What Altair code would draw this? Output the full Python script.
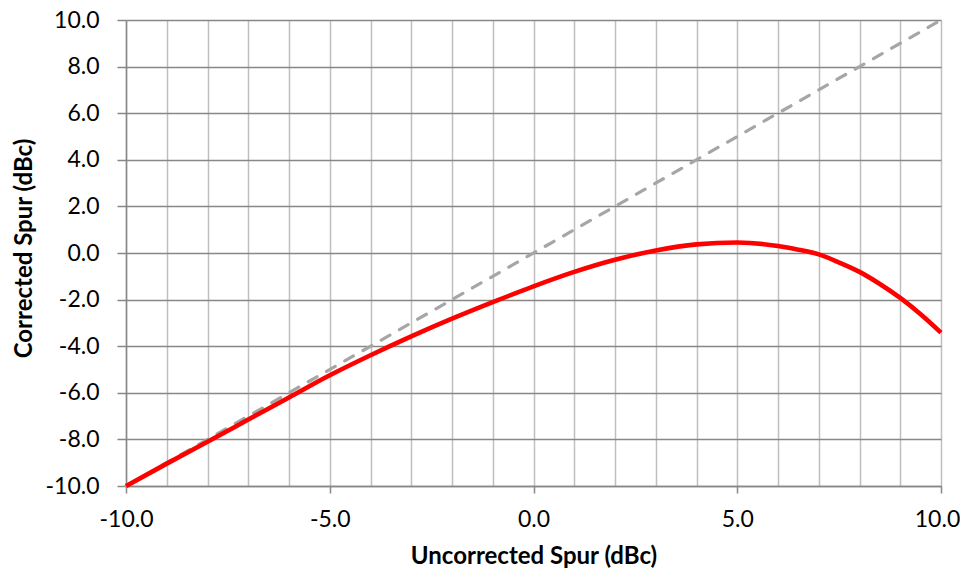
import altair as alt
import pandas as pd

# Data
x_uncorrected = [-10, -9, -8, -7, -6, -5, -4, -3, -2, -1, 0, 1, 2, 3, 4, 5, 6, 6.5, 7, 7.5, 8, 8.5, 9, 9.5, 10]
y_corrected = [-10, -9.04, -8.1, -7.15, -6.2, -5.25, -4.39, -3.58, -2.82, -2.11, -1.43, -0.81, -0.29, 0.11,
               0.37, 0.45, 0.30, 0.14, -0.06, -0.41, -0.81, -1.33, -1.93, -2.63, -3.42]
ref_x = [-10, 10]
ref_y = [-10, 10]
x_grid_values = list(range(-10, 11))
y_tick_values = list(range(-10, 11, 2))

FONT = "Lato"
DARK_GRID = "#878787"
LIGHT_GRID = "#BFBFBF"
LABEL_EXPR = "(datum.value < 0 ? '-' : '') + format(abs(datum.value), '.1f')"

df_curve = pd.DataFrame({"x": x_uncorrected, "y": y_corrected})
df_ref = pd.DataFrame({"x": ref_x, "y": ref_y})

x_scale = alt.Scale(domain=[-10, 10], nice=False, zero=False)
y_scale = alt.Scale(domain=[-10, 10], nice=False, zero=False)

x_axis = alt.Axis(
    values=x_grid_values,
    labelExpr="datum.value % 5 === 0 ? " + LABEL_EXPR + " : ''",
    title="Uncorrected Spur (dBc)",
    grid=True,
    gridColor=LIGHT_GRID,
    gridWidth=1.5,
    tickColor=DARK_GRID,
    tickSize=7,
    tickWidth=1.5,
    tickOpacity=alt.condition("datum.value % 5 === 0", alt.value(1), alt.value(0)),
    domainColor=DARK_GRID,
    domainWidth=1.5,
    labelFont=FONT,
    labelFontSize=23,
    labelColor="#000000",
    labelBaseline="middle",
    labelPadding=26,
    labelOffset=alt.condition("datum.value >= 10", alt.value(-4), alt.value(0)),
    labelFlush=False,
    labelOverlap=False,
    titleFont=FONT,
    titleFontSize=24,
    titleFontWeight="bold",
    titleColor="#000000",
    titleBaseline="middle",
    titleY=70,
)

y_axis = alt.Axis(
    values=y_tick_values,
    labelExpr=LABEL_EXPR,
    title="Corrected Spur (dBc)",
    grid=True,
    gridColor=DARK_GRID,
    gridWidth=1.5,
    tickColor=DARK_GRID,
    tickSize=9,
    tickWidth=1.5,
    domainColor=DARK_GRID,
    domainWidth=1.5,
    labelFont=FONT,
    labelFontSize=23,
    labelColor="#000000",
    labelPadding=18,
    labelFlush=False,
    labelOverlap=False,
    titleFont=FONT,
    titleFontSize=24,
    titleFontWeight="bold",
    titleColor="#000000",
    titleAngle=-90,
    titleAlign="center",
    titleBaseline="middle",
    titleX=-102,
    titleY=228,
)

ref_line = alt.Chart(df_ref).mark_line(
    color="#A6A6A6", strokeWidth=3.2, strokeDash=[10, 11], strokeCap="round"
).encode(
    x=alt.X("x:Q", scale=x_scale, axis=x_axis),
    y=alt.Y("y:Q", scale=y_scale, axis=y_axis),
)

curve = alt.Chart(df_curve).mark_line(
    color="#FF0000", strokeWidth=4.6, interpolate="monotone"
).encode(
    x=alt.X("x:Q", scale=x_scale, axis=x_axis),
    y=alt.Y("y:Q", scale=y_scale, axis=y_axis),
)

chart = alt.layer(ref_line, curve).properties(
    width=815,
    height=466,
    autosize=alt.AutoSizeParams(type="none"),
    padding={"left": 118, "top": 12, "right": 19, "bottom": 84},
    background="#FFFFFF",
).configure_view(stroke=None)

chart.save("out.html", embed_options={"renderer": "svg", "actions": False})
